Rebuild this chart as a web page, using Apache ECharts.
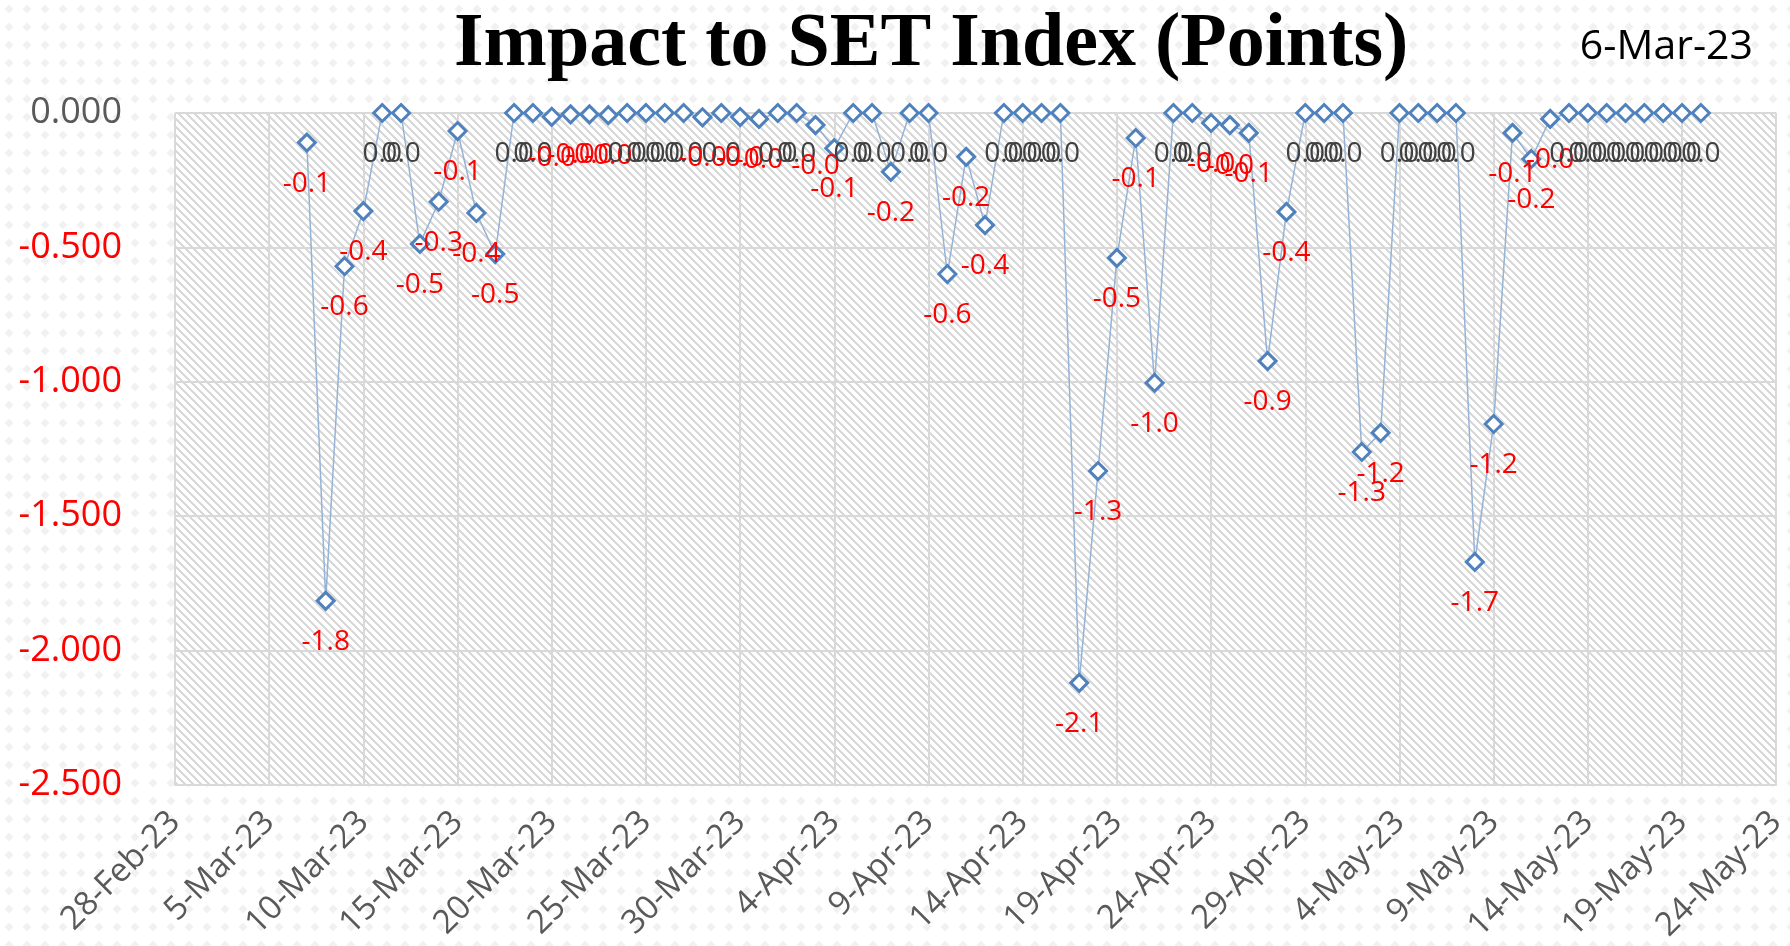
<!DOCTYPE html>
<html>
<head>
<meta charset="utf-8">
<script src="https://cdn.jsdelivr.net/npm/echarts@6/dist/echarts.min.js"></script>
<style>
  html, body { margin: 0; padding: 0; background: #fff; }
  #chart { width: 1790px; height: 946px; }
</style>
</head>
<body>
<div id="chart"></div>
<script>
// data
const dates = [
  "2023-03-07", "2023-03-08", "2023-03-09", "2023-03-10", "2023-03-11", "2023-03-12", "2023-03-13",
  "2023-03-14", "2023-03-15", "2023-03-16", "2023-03-17", "2023-03-18", "2023-03-19", "2023-03-20",
  "2023-03-21", "2023-03-22", "2023-03-23", "2023-03-24", "2023-03-25", "2023-03-26", "2023-03-27",
  "2023-03-28", "2023-03-29", "2023-03-30", "2023-03-31", "2023-04-01", "2023-04-02", "2023-04-03",
  "2023-04-04", "2023-04-05", "2023-04-06", "2023-04-07", "2023-04-08", "2023-04-09", "2023-04-10",
  "2023-04-11", "2023-04-12", "2023-04-13", "2023-04-14", "2023-04-15", "2023-04-16", "2023-04-17",
  "2023-04-18", "2023-04-19", "2023-04-20", "2023-04-21", "2023-04-22", "2023-04-23", "2023-04-24",
  "2023-04-25", "2023-04-26", "2023-04-27", "2023-04-28", "2023-04-29", "2023-04-30", "2023-05-01",
  "2023-05-02", "2023-05-03", "2023-05-04", "2023-05-05", "2023-05-06", "2023-05-07", "2023-05-08",
  "2023-05-09", "2023-05-10", "2023-05-11", "2023-05-12", "2023-05-13", "2023-05-14", "2023-05-15",
  "2023-05-16", "2023-05-17", "2023-05-18", "2023-05-19", "2023-05-20",
];

const impact = [
  -0.11, -1.815, -0.57, -0.365, 0, 0, -0.487,
  -0.33, -0.067, -0.372, -0.525, 0, 0, -0.014,
  -0.005, -0.005, -0.008, 0, 0, 0, 0,
  -0.016, 0, -0.015, -0.022, 0, 0, -0.045,
  -0.131, 0, 0, -0.219, 0, 0, -0.599,
  -0.163, -0.417, 0, 0, 0, 0, -2.12,
  -1.332, -0.539, -0.093, -1.004, 0, 0, -0.037,
  -0.045, -0.074, -0.923, -0.368, 0, 0, 0,
  -1.261, -1.19, 0, 0, 0, 0, -1.67,
  -1.157, -0.074, -0.171, -0.022, 0, 0, 0,
  0, 0, 0, 0, 0,
];

const axisStart = "2023-02-28";
const axisEnd = "2023-05-24";
const months = ["Jan", "Feb", "Mar", "Apr", "May", "Jun", "Jul", "Aug", "Sep", "Oct", "Nov", "Dec"];

const DAY = 86400000;
const t0 = Date.parse(axisStart);

function dayOffset(d) {
  return Math.round((Date.parse(d) - t0) / DAY);
}

function fmtDate(v) {
  const d = new Date(t0 + v * DAY);
  return d.getUTCDate() + "-" + months[d.getUTCMonth()] + "-" + String(d.getUTCFullYear()).slice(2);
}

// pixel staircase hatch for the plot area (like Excel's wide downward diagonal)
function hatch() {
  const c = document.createElement("canvas");
  c.width = 8;
  c.height = 8;
  const g = c.getContext("2d");
  g.fillStyle = "#ffffff";
  g.fillRect(0, 0, 8, 8);
  g.fillStyle = "#d9d9d9";
  for (let y = 0; y < 8; y++) {
    for (let k = 0; k < 3; k++) {
      g.fillRect((y + k) % 8, y, 1, 1);
    }
  }
  return { image: c, repeat: "repeat" };
}

// faint diamond dots behind everything
function dots() {
  const c = document.createElement("canvas");
  c.width = 18;
  c.height = 18;
  const g = c.getContext("2d");
  g.fillStyle = "#ffffff";
  g.fillRect(0, 0, 18, 18);
  g.fillStyle = "#f1f1f1";
  g.beginPath();
  g.moveTo(9, 4.5);
  g.lineTo(13.5, 9);
  g.lineTo(9, 13.5);
  g.lineTo(4.5, 9);
  g.closePath();
  g.fill();
  return { image: c, repeat: "repeat" };
}

const chart = echarts.init(document.getElementById("chart"));

const labelFont = "'Open Sans', sans-serif";

const option = {
  animation: false,
  backgroundColor: dots(),
  title: [
    {
      text: "Impact to SET Index (Points)",
      left: 449,
      top: 2,
      textStyle: {
        fontFamily: "'Liberation Serif', serif",
        fontWeight: "bold",
        fontSize: 76,
        color: "#000",
      },
    },
    {
      text: "6-Mar-23",
      right: 32,
      top: 22,
      textStyle: {
        fontFamily: labelFont,
        fontWeight: "normal",
        fontSize: 41,
        color: "#000",
      },
    },
  ],
  grid: {
    left: 175,
    right: 7,
    top: 113,
    bottom: 161,
    show: true,
    borderWidth: 0,
    backgroundColor: hatch(),
  },
  xAxis: {
    type: "value",
    min: 0,
    max: dayOffset(axisEnd),
    interval: 5,
    axisLine: { show: true, onZero: false, lineStyle: { color: "#d9d9d9", width: 2 } },
    axisTick: { show: false },
    splitLine: { show: true, lineStyle: { color: "#d9d9d9", width: 2 } },
    axisLabel: {
      rotate: 45,
      margin: 32,
      color: "#595959",
      fontSize: 33,
      fontFamily: labelFont,
      formatter: (v) => fmtDate(v),
    },
  },
  yAxis: {
    type: "value",
    min: -2.5,
    max: 0,
    interval: 0.5,
    axisLine: { show: false },
    axisTick: { show: false },
    splitLine: { show: true, lineStyle: { color: "#d9d9d9", width: 2 } },
    axisLabel: {
      margin: 53,
      formatter: (v) => (v < 0 ? "{neg|" + v.toFixed(3) + "}" : "{zero|" + Math.abs(v).toFixed(3) + "}"),
      rich: {
        neg: { color: "#ff0000", fontSize: 36, fontFamily: labelFont },
        zero: { color: "#595959", fontSize: 36, fontFamily: labelFont },
      },
    },
  },
  series: [
    {
      name: "Impact",
      type: "line",
      data: dates.map((d, i) => [dayOffset(d), impact[i]]),
      symbol: "diamond",
      symbolSize: 17,
      showAllSymbol: true,
      lineStyle: { color: "#95b3d7", width: 1.5 },
      itemStyle: { color: "#ffffff", borderColor: "#4f81bd", borderWidth: 3 },
      label: {
        show: true,
        position: "bottom",
        distance: 17,
        formatter: (p) => {
          const v = p.value[1];
          return v < 0 ? "{neg|" + v.toFixed(1) + "}" : "{zero|" + v.toFixed(1) + "}";
        },
        rich: {
          neg: { color: "#ff0000", fontSize: 28, fontFamily: labelFont },
          zero: { color: "#404040", fontSize: 28, fontFamily: labelFont },
        },
      },
    },
  ],
};

chart.setOption(option);
</script>
</body>
</html>
